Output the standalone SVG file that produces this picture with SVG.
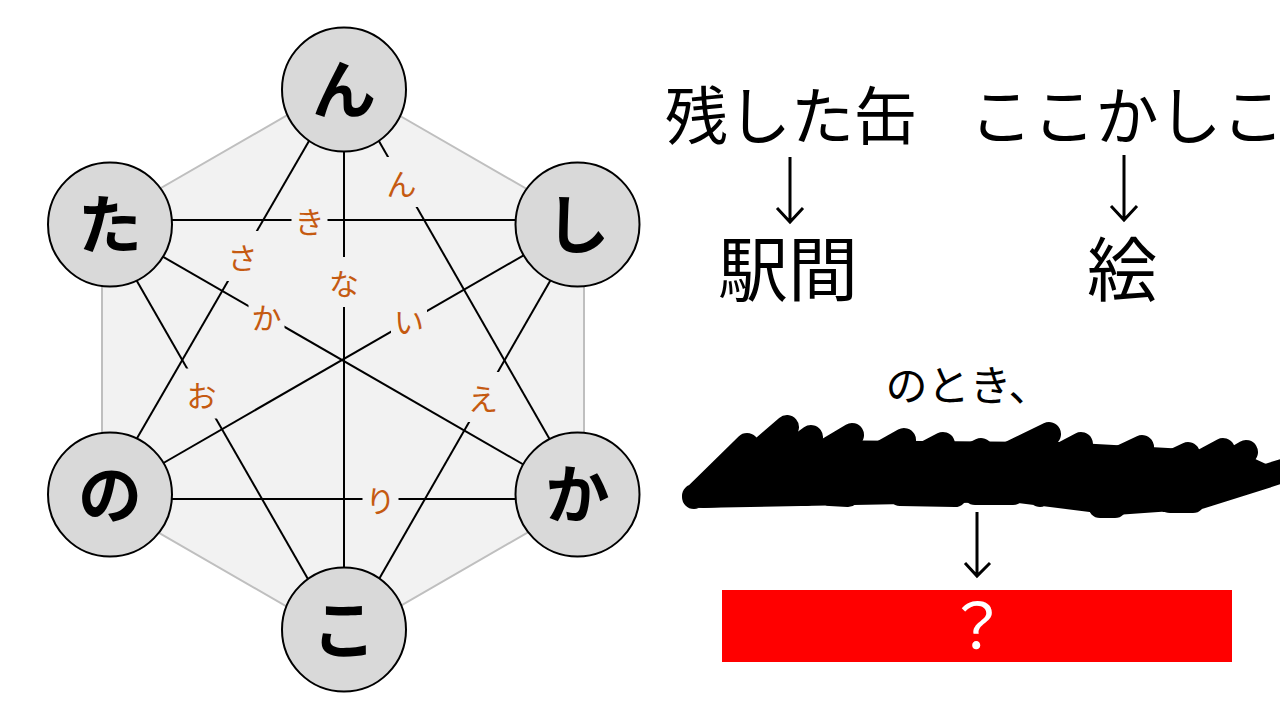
<svg xmlns="http://www.w3.org/2000/svg" width="1280" height="720" viewBox="0 0 1280 720">
<defs>
<style>
.hex{fill:#f2f2f2;stroke:#bfbfbf;stroke-width:2}
.edge{stroke:#000;stroke-width:2;fill:none}
.lblbg{fill:#f2f2f2}
.lbl{font-family:"Noto Sans CJK JP",sans-serif;font-size:30px;fill:#c55a11;text-anchor:middle;dominant-baseline:central}
.node circle{fill:#d9d9d9;stroke:#000;stroke-width:2}
.node text{font-family:"Noto Sans CJK JP",sans-serif;font-size:64px;font-weight:bold;fill:#000;text-anchor:middle;dominant-baseline:central}
.big{font-family:"Noto Sans CJK JP",sans-serif;fill:#000;text-anchor:middle}
.arr{stroke:#000;stroke-width:3;fill:none;stroke-linecap:butt;stroke-linejoin:miter}
.scr{stroke:#000;stroke-width:24;stroke-linecap:round;stroke-linejoin:round;fill:none}
</style>
</defs>
<rect width="1280" height="720" fill="#fff"/>
<polygon class="hex" points="343,83 584,222 584,500 343,639 102,500 102,222"/>
<g id="connectors">
<line class="edge" x1="150" y1="220" x2="540" y2="220"/>
<line class="edge" x1="150" y1="499" x2="540" y2="499"/>
<line class="edge" x1="344" y1="120" x2="344" y2="600"/>
<line class="edge" x1="320" y1="122" x2="125" y2="459"/>
<line class="edge" x1="368" y1="122" x2="561" y2="459"/>
<line class="edge" x1="561" y1="262" x2="367" y2="600"/>
<line class="edge" x1="126" y1="262" x2="320" y2="600"/>
<line class="edge" x1="140" y1="243.5" x2="545" y2="477"/>
<line class="edge" x1="140" y1="476.5" x2="545" y2="243"/>
<g id="edge-labels">
<rect class="lblbg" x="291.5" y="195" width="36" height="50"/><text class="lbl" x="309.5" y="220">き</text>
<rect class="lblbg" x="362.5" y="474" width="36" height="50"/><text class="lbl" x="380.5" y="499">り</text>
<rect class="lblbg" x="326" y="257" width="36" height="50"/><text class="lbl" x="344" y="282">な</text>
<rect class="lblbg" x="224.5" y="231" width="36" height="50"/><text class="lbl" x="242.5" y="256">さ</text>
<rect class="lblbg" x="383.5" y="157" width="36" height="50"/><text class="lbl" x="401.5" y="182">ん</text>
<rect class="lblbg" x="465" y="372" width="36" height="50"/><text class="lbl" x="483" y="397">え</text>
<rect class="lblbg" x="183.5" y="368.5" width="36" height="50"/><text class="lbl" x="201.5" y="393.5">お</text>
<rect class="lblbg" x="248.5" y="291" width="36" height="50"/><text class="lbl" x="266.5" y="316">か</text>
<rect class="lblbg" x="391" y="295" width="36" height="50"/><text class="lbl" x="409" y="320">い</text>
</g>
</g>
<g id="node-n" class="node"><circle cx="344" cy="89.5" r="62"/><text x="344" y="85">ん</text></g>
<g id="node-ta" class="node"><circle cx="110" cy="224.5" r="62"/><text x="110" y="220">た</text></g>
<g id="node-shi" class="node"><circle cx="577.5" cy="224.5" r="62"/><text x="577.5" y="220">し</text></g>
<g id="node-no" class="node"><circle cx="110" cy="494.5" r="62"/><text x="110" y="490">の</text></g>
<g id="node-ka" class="node"><circle cx="577.5" cy="494.5" r="62"/><text x="577.5" y="490">か</text></g>
<g id="node-ko" class="node"><circle cx="344" cy="629.5" r="62"/><text x="344" y="625">こ</text></g>
<g id="right-text">
<text class="big" x="791" y="139" font-size="63">残した缶</text>
<text class="big" x="1127" y="139" font-size="63">ここかしこ</text>
<text class="big" x="788" y="296" font-size="70">駅間</text>
<text class="big" x="1122" y="296" font-size="70">絵</text>
<text class="big" x="968" y="401" font-size="42">のとき、</text>
</g>
<g id="arrows">
<path class="arr" d="M790,157 V222 M777,208 L790,222 L803,208"/>
<path class="arr" d="M1124,155 V220 M1111,206 L1124,220 L1137,206"/>
<path class="arr" d="M977,512 V576 M965,563 L977,576 L990,563"/>
</g>
<g id="scribble">
<path d="M700,492 L745,448 L800,440 L1060,442 L1240,452 L1275,468 L1200,497 L1115,503 L1010,490 Z" fill="#000"/>
<path class="scr" d="M694,497 L747,445 M712,492 L787,427 M735,492 L811,437 M760,490 L852,435 M815,490 L904,440 M855,490 L943,444 M895,492 L981,450 M930,492 L1049,434 M990,492 L1081,444 M1040,495 L1142,447 M1090,500 L1188,454 M1130,500 L1223,450 M1165,500 L1246,452 M694,496 L1010,490 L1115,503 L1200,497 L1292,468"/>
<path class="scr" d="M703,496 L737,494 M760,494 L806,494 M830,494 L848,495 M900,494 L955,495 M975,493 L1013,493 M1100,506 L1115,506 M1170,501 L1193,501"/>
</g>
<g id="answer">
<rect x="722" y="590" width="510" height="72" fill="#ff0000"/>
<text x="977" y="649" font-family="'Noto Sans CJK JP',sans-serif" font-size="62" fill="#fff" text-anchor="middle">？</text>
</g>
</svg>
